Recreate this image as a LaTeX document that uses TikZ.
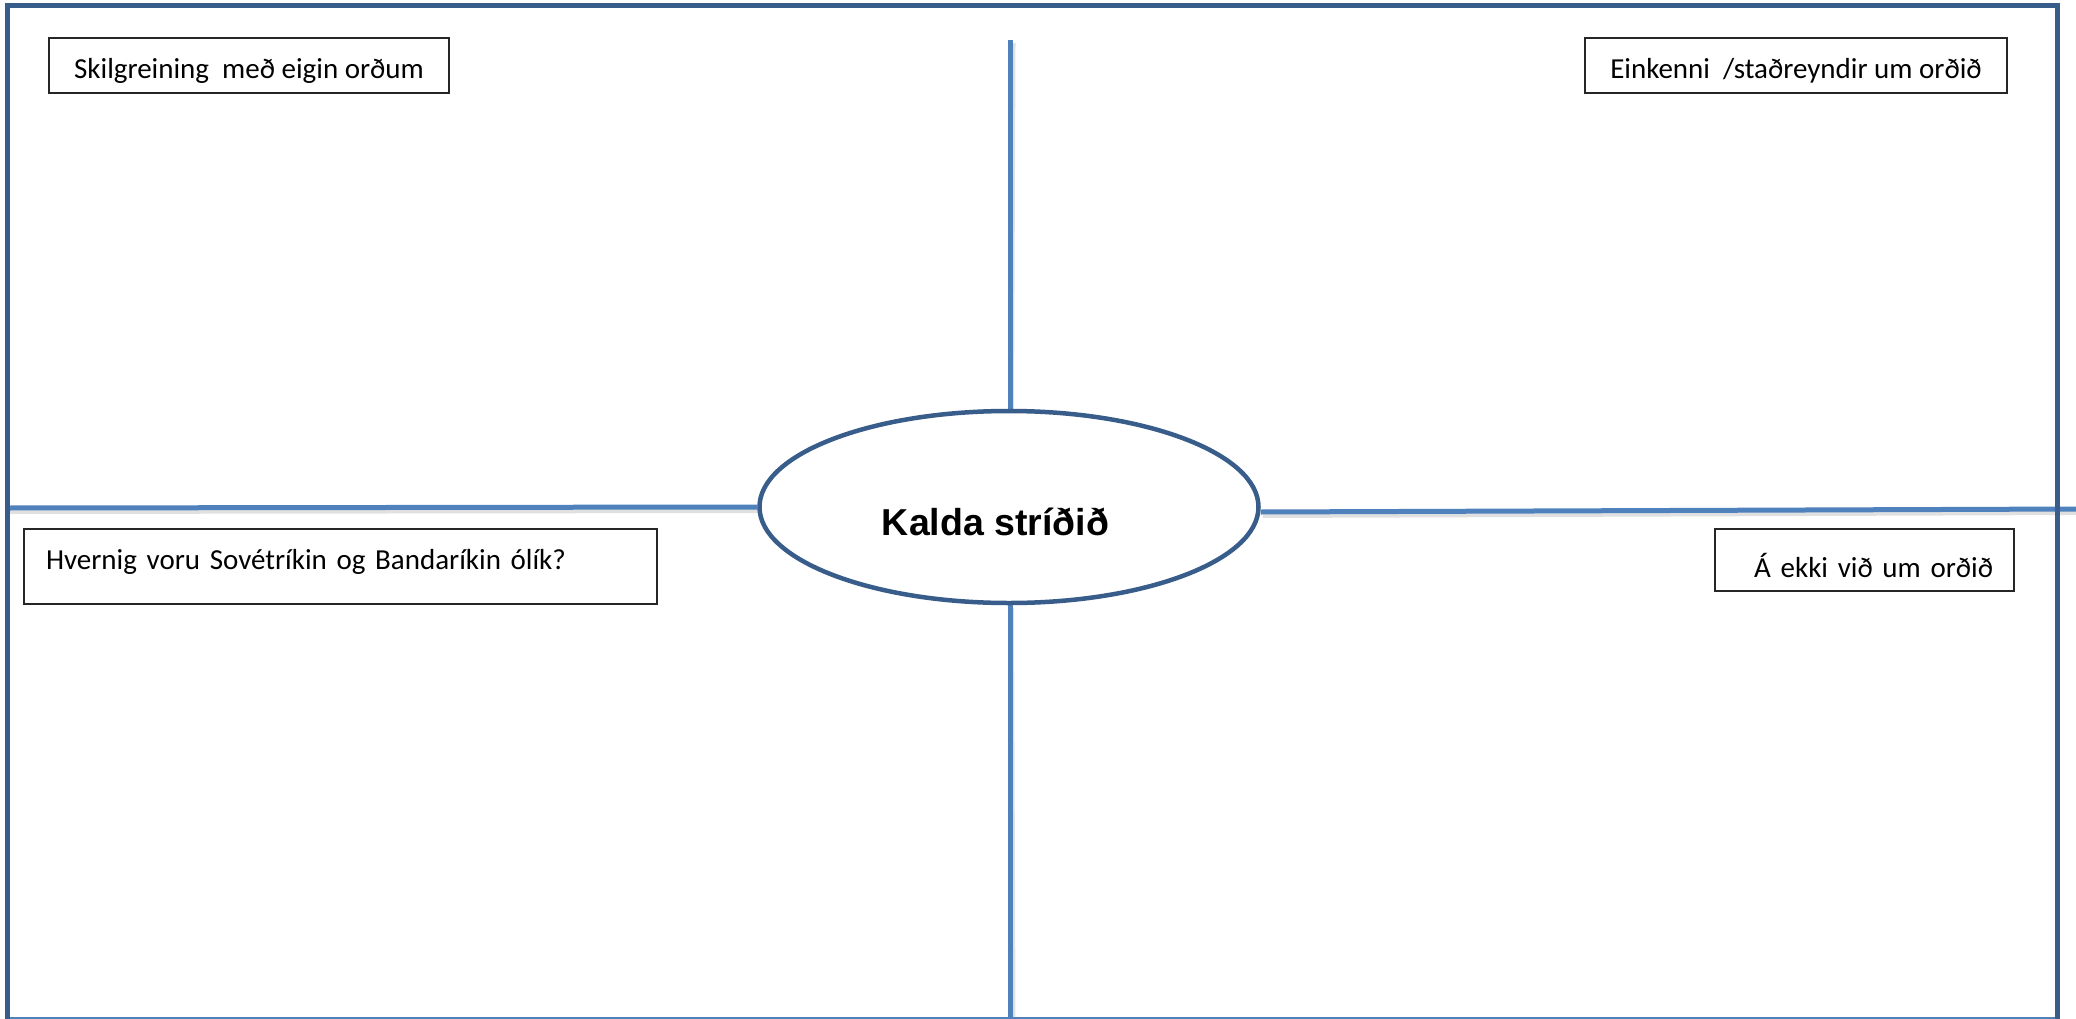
\documentclass[tikz,border=0pt]{standalone}
\usepackage{fontspec}
\setmainfont{Carlito}
\newfontfamily\headfont{Liberation Sans}
\usetikzlibrary{shapes.geometric,backgrounds}
\definecolor{frameblue}{RGB}{56,93,138}
\definecolor{lineblue}{RGB}{79,129,189}
\begin{document}
\begin{tikzpicture}[x=1pt,y=-1pt,
  labelbox/.style={draw=black!85, line width=1.3pt, inner ysep=0pt, fill=white,
    font=\fontsize{29}{34}\selectfont, minimum height=55pt},
  spoke/.style={draw=lineblue, line width=5pt},
  spokeshadow/.style={draw=black, opacity=0.12, line width=6pt},
  framestyle/.style={draw=frameblue, line width=5pt, line join=miter},
  hub/.style={ellipse, draw=frameblue, line width=4.5pt, fill=white,
    minimum width=499pt, minimum height=192pt, inner sep=0pt,
    font=\headfont\bfseries\fontsize{37.5}{40}\selectfont,
    text height=56pt, text depth=0pt}]
\useasboundingbox (0,0) rectangle (2076,1019);

% centre ellipse
\node[hub] (ell) at (1009,507) {Kalda stríðið\kern27pt};

% frame corners and spoke ends
\coordinate (fbl) at (7.5,1019);
\coordinate (ftl) at (7.5,5.5);
\coordinate (ftr) at (2057,5.5);
\coordinate (fbr) at (2057,1019);
\coordinate (bl) at (8,1017.5);
\coordinate (br) at (2057,1017.5);
\coordinate (topend) at (1010.5,40);
\coordinate (botend) at (1010.5,1019);
\coordinate (leftend) at (7.5,508);
\coordinate (rightend) at (2076,509);

\begin{pgfonlayer}{background}
  \fill[white] (0,0) rectangle (2076,1019);
  \draw[spokeshadow] ([xshift=2pt,yshift=-3pt]topend) -- ([xshift=2pt,yshift=-3pt]ell.north);
  \draw[spokeshadow] ([xshift=2pt,yshift=-3pt]ell.south) -- ([xshift=2pt,yshift=-3pt]botend);
  \draw[spokeshadow] ([xshift=2pt,yshift=-3pt]leftend) -- ([xshift=2pt,yshift=-3pt]ell.west);
  \draw[spokeshadow] ([xshift=2pt,yshift=-8pt]ell.east) -- ([xshift=2pt,yshift=-3pt]rightend);
  \draw[spoke] (topend) -- ([xshift=1.5pt]ell.north);
  \draw[spoke] ([xshift=1.5pt]ell.south) -- (botend);
  \draw[spoke] (leftend) -- (ell.west);
  \draw[spoke] ([yshift=-5pt]ell.east) -- (rightend);
\end{pgfonlayer}

% outer frame
\draw[lineblue, line width=2pt] (bl) -- (br);
\draw[framestyle] (fbl) -- (ftl) -- (ftr) -- (fbr);

% label boxes
\node[labelbox, minimum width=400pt, text height=29pt, text depth=2pt]
  (def) at (249,65.5) {Skilgreining\ \ með eigin orðum};
\node[labelbox, minimum width=422pt, text height=29pt, text depth=2pt]
  (fact) at (1796,65.5) {Einkenni\ \ /staðreyndir um orðið};
\node[labelbox, minimum height=75pt, text width=589pt, inner xsep=22pt, align=left,
  text height=20pt, text depth=15pt]
  (diff) at (340.5,566.5) {Hvernig voru Sovétríkin og Bandaríkin ólík?};
\node[labelbox, minimum height=62pt, text width=257pt, inner xsep=21pt, align=right,
  text height=36pt, text depth=2pt]
  (non) at (1864.5,560) {Á ekki við um orðið};
\end{tikzpicture}
\end{document}
